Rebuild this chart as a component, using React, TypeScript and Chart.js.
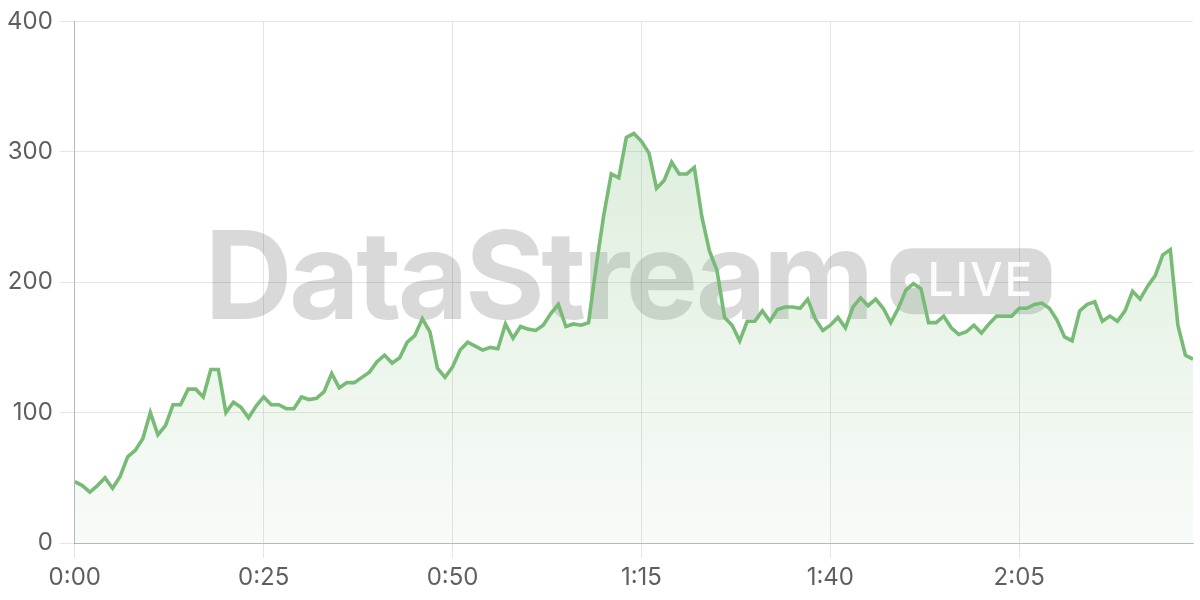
import React, { useEffect, useRef } from "react";
import { Chart, registerables } from "chart.js";

Chart.register(...registerables);

const values: number[] = [
  47, 44, 39, 44, 50, 42, 51, 66, 71, 80,
  100, 83, 90, 106, 106, 118, 118, 112, 133, 133,
  100, 108, 104, 96, 105, 112, 106, 106, 103, 103,
  112, 110, 111, 116, 130, 119, 123, 123, 127, 131,
  139, 144, 138, 142, 154, 159, 172, 162, 134, 127,
  135, 148, 154, 151, 148, 150, 149, 168, 157, 166,
  164, 163, 167, 176, 183, 166, 168, 167, 169, 212,
  251, 283, 280, 311, 314, 308, 299, 272, 278, 292,
  283, 283, 288, 250, 224, 209, 173, 167, 155, 170,
  170, 178, 170, 179, 181, 181, 180, 187, 172, 163,
  167, 173, 165, 181, 188, 182, 187, 180, 169, 180,
  194, 199, 195, 169, 169, 174, 165, 160, 162, 167,
  161, 168, 174, 174, 174, 180, 180, 183, 184, 180,
  171, 158, 155, 178, 183, 185, 170, 174, 170, 178,
  193, 187, 197, 205, 221, 225, 167, 144, 141,
];

const tickSeconds: number[] = [0, 25, 50, 75, 100, 125];
const tickLabels: string[] = ["0:00", "0:25", "0:50", "1:15", "1:40", "2:05"];
const yTicks: number[] = [0, 100, 200, 300, 400];

const watermarkText = "DataStream";
const badgeText = "LIVE";

const lineColor = "#78bb76";

const watermarkPlugin = {
  id: "watermark",
  beforeDatasetsDraw(chart: any) {
    const { ctx, chartArea } = chart;
    const cx = (chartArea.left + chartArea.right) / 2 - 6;
    const cy = (chartArea.top + chartArea.bottom) / 2;
    ctx.save();
    ctx.font = "700 122px Inter";
    (ctx as any).letterSpacing = "0px";
    const w0 = ctx.measureText(watermarkText).width;
    const targetW = 670;
    const ls = (targetW - w0) / 9;
    (ctx as any).letterSpacing = ls + "px";
    const badgeW = 161;
    const badgeH = 66;
    const gap = 16;
    const total = targetW + gap + badgeW;
    const x0 = cx - total / 2;
    ctx.fillStyle = "rgba(0,0,0,0.15)";
    ctx.textBaseline = "alphabetic";
    ctx.textAlign = "left";
    ctx.fillText(watermarkText, x0, cy + 37);
    const bx = x0 + targetW + gap;
    const by = cy - 34;
    ctx.beginPath();
    ctx.roundRect(bx, by, badgeW, badgeH, 22);
    ctx.fill();
    ctx.fillStyle = "rgba(255,255,255,0.92)";
    ctx.beginPath();
    ctx.arc(bx + 22, cy - 1.5, 7.5, 0, Math.PI * 2);
    ctx.fill();
    (ctx as any).letterSpacing = "2px";
    ctx.font = "500 46px Inter";
    ctx.fillText(badgeText, bx + 37, cy + 14);
    ctx.restore();
  },
};

export default function App() {
  const canvasRef = useRef<HTMLCanvasElement | null>(null);

  useEffect(() => {
    if (!canvasRef.current) return;
    const points = values.map((v, i) => ({ x: i, y: v }));
    const chart = new Chart(canvasRef.current, {
      type: "line",
      data: {
        datasets: [
          {
            data: points,
            borderColor: lineColor,
            borderWidth: 3.6,
            pointRadius: 0,
            pointHoverRadius: 0,
            tension: 0,
            fill: "origin",
            backgroundColor: (context: any) => {
              const c = context.chart;
              const area = c.chartArea;
              if (!area) return "rgba(120,187,118,0.15)";
              const g = c.ctx.createLinearGradient(0, area.top, 0, area.bottom);
              g.addColorStop(0, "rgba(120,187,118,0.30)");
              g.addColorStop(1, "rgba(120,187,118,0.05)");
              return g;
            },
          },
        ],
      },
      options: {
        animation: false,
        responsive: true,
        maintainAspectRatio: false,
        layout: { padding: { left: 0, right: 7, top: 6, bottom: 2 } },
        plugins: {
          legend: { display: false },
          tooltip: { enabled: false },
        },
        scales: {
          x: {
            type: "linear",
            min: 0,
            max: values.length - 1,
            afterBuildTicks: (scale: any) => {
              scale.ticks = tickSeconds.map((v) => ({ value: v }));
            },
            ticks: {
              callback: (v: any) => {
                const idx = tickSeconds.indexOf(Number(v));
                return idx >= 0 ? tickLabels[idx] : "";
              },
              color: "#5f5f5f",
              font: { family: "Inter", size: 24 },
              padding: 5.6,
              maxRotation: 0,
              autoSkip: false,
            },
            grid: {
              color: "rgba(0,0,0,0.1)",
              tickLength: 15,
            },
            border: { color: "rgba(0,0,0,0.2)", width: 1 },
          },
          y: {
            min: 0,
            max: 400,
            afterBuildTicks: (scale: any) => {
              scale.ticks = yTicks.map((v) => ({ value: v }));
            },
            ticks: {
              color: "#5f5f5f",
              font: { family: "Inter", size: 24 },
              padding: 7,
            },
            grid: {
              color: "rgba(0,0,0,0.1)",
              tickLength: 15,
            },
            border: { color: "rgba(0,0,0,0.2)", width: 1 },
          },
        },
      },
      plugins: [watermarkPlugin],
    });
    return () => chart.destroy();
  }, []);

  return (
    <div style={{ position: "fixed", left: 0, top: 0, width: 1200, height: 600, background: "#fff" }}>
      <canvas ref={canvasRef} />
    </div>
  );
}
